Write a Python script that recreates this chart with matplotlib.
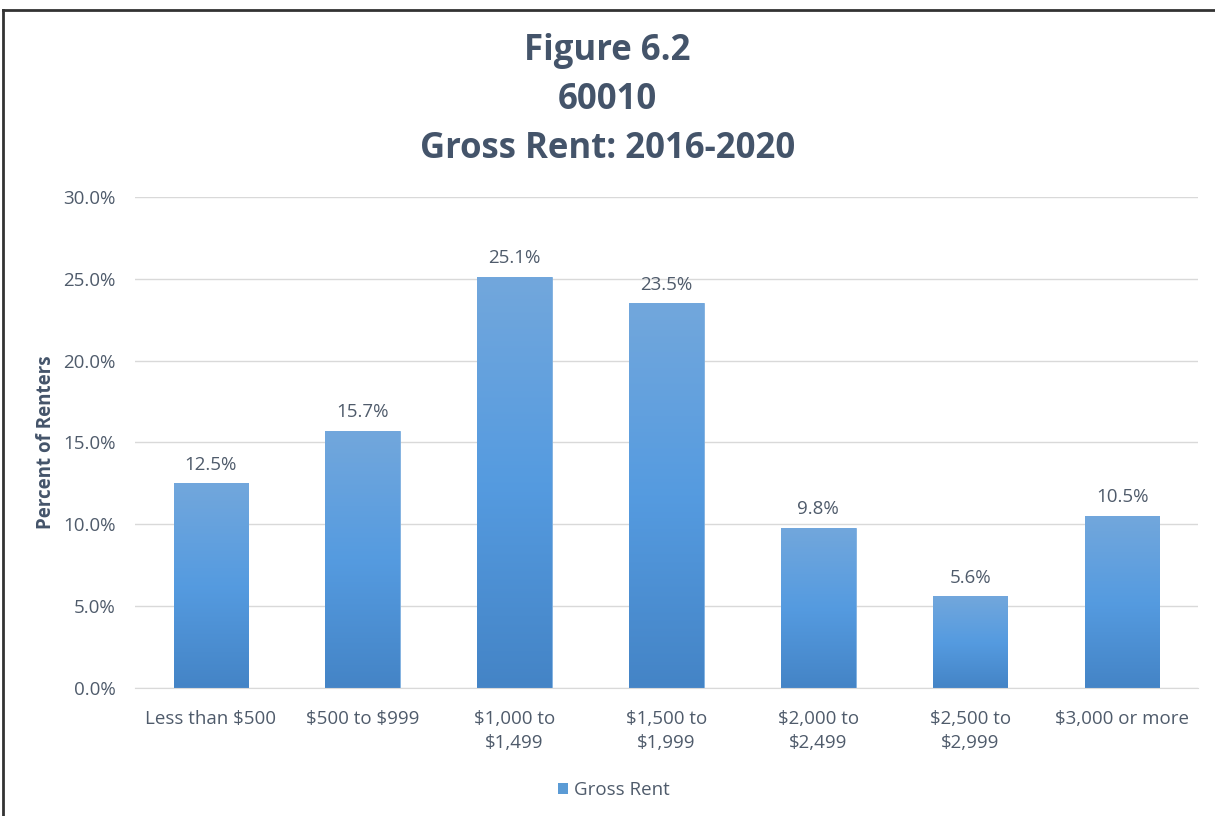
import matplotlib
matplotlib.use("Agg")
import matplotlib.pyplot as plt
import numpy as np
from matplotlib.colors import LinearSegmentedColormap
from matplotlib.lines import Line2D
from matplotlib.patches import Patch

plt.rcParams['font.family'] = ['Open Sans', 'DejaVu Sans']

categories = ["Less than \\$500", "\\$500 to \\$999", "\\$1,000 to\n\\$1,499", "\\$1,500 to\n\\$1,999",
              "\\$2,000 to\n\\$2,499", "\\$2,500 to\n\\$2,999", "\\$3,000 or more"]
values = [12.5, 15.7, 25.1, 23.5, 9.8, 5.6, 10.5]
yticks = [0, 5, 10, 15, 20, 25, 30]
title_lines = ["Figure 6.2", "60010", "Gross Rent: 2016-2020"]
series_name = "Gross Rent"

text_col = "#44546a"
tick_col = "#4f5b6b"

fig = plt.figure(figsize=(12.15, 8.16), dpi=100)
ax = fig.add_axes([0.111, 0.1569, 0.875, 0.6017])

x = np.arange(len(categories))
bars = ax.bar(x, values, width=0.49, color="#5b9bd5", edgecolor="#7fb0e0", linewidth=0.6, zorder=2)

cmap = LinearSegmentedColormap.from_list("g", ["#4484c6", "#559be0", "#72a7dc"])
grad = np.linspace(0, 1, 256).reshape(-1, 1)
for b in bars:
    x0, y0 = b.get_x(), b.get_y()
    w, h = b.get_width(), b.get_height()
    im = ax.imshow(grad, cmap=cmap, origin="lower", aspect="auto",
                   extent=[x0, x0 + w, y0, y0 + h], zorder=2.5)
    im.set_clip_path(b)

for xi, v in zip(x, values):
    ax.annotate(f"{v:.1f}%", (xi, v), xytext=(0, 7), textcoords="offset points",
                ha="center", va="bottom", fontsize=13.5, color=tick_col)

ax.set_xlim(-0.5, len(categories) - 0.5)
ax.set_ylim(0, 30)
ax.set_yticks(yticks)
ax.set_yticklabels([f"{t:.1f}%" for t in yticks])
ax.set_xticks(x)
ax.set_xticklabels(categories, linespacing=1.4)
ax.tick_params(axis="both", length=0, labelsize=13.5, labelcolor=tick_col)
ax.tick_params(axis="y", pad=14)
ax.tick_params(axis="x", pad=16)
ax.grid(axis="y", color="#d9d9d9", linewidth=1, zorder=0)
ax.set_axisbelow(True)
for s in ["top", "right", "left"]:
    ax.spines[s].set_visible(False)
ax.spines["bottom"].set_color("#d9d9d9")
ax.set_ylabel("Percent of Renters", fontsize=13.5, color=text_col, fontweight="bold", labelpad=5)

for i, t in enumerate(title_lines):
    fig.text(0.5, 1 - (51 + 49 * i) / 816, t, ha="center", va="center",
             fontsize=25, fontweight="bold", color=text_col)

fig.legend(handles=[Patch(facecolor="#5b9bd5", edgecolor="none")], labels=[series_name],
           loc="center", bbox_to_anchor=(0.505, 1 - 790 / 816), frameon=False,
           fontsize=13.5, labelcolor=tick_col, handlelength=0.55, handleheight=0.55,
           handletextpad=0.3)

# partial frame (left and top) as in the reference
fig.add_artist(Line2D([2.5 / 1215, 2.5 / 1215], [0, 1 - 9.5 / 816], transform=fig.transFigure,
                      color="#333333", linewidth=2))
fig.add_artist(Line2D([2.5 / 1215, 1], [1 - 9.5 / 816, 1 - 9.5 / 816], transform=fig.transFigure,
                      color="#333333", linewidth=2))

fig.savefig("out.png", dpi=100)
